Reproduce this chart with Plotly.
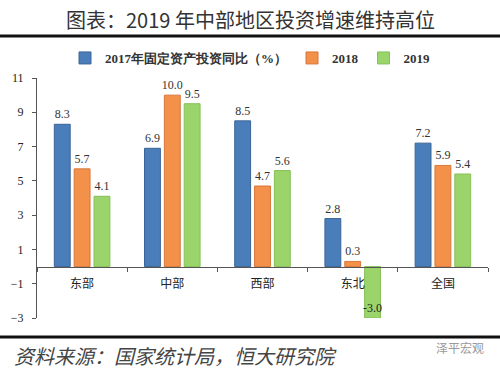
import plotly.graph_objects as go

categories = ["东部", "中部", "西部", "东北", "全国"]
s2017 = [8.3, 6.9, 8.5, 2.8, 7.2]
s2018 = [5.7, 10.0, 4.7, 0.3, 5.9]
s2019 = [4.1, 9.5, 5.6, -3.0, 5.4]
series_names = ["2017年固定资产投资同比（%）", "2018", "2019"]
colors = ["#4A7EBB", "#F3914A", "#9CD46C"]
line_colors = ["#3A6496", "#D8773A", "#86BF58"]
yticks = [-3, -1, 1, 3, 5, 7, 9, 11]

serif = "Liberation Serif, Times New Roman, serif"
cjk = "Noto Sans CJK SC, sans-serif"

fig = go.Figure()
for name, vals, c, lc in zip(series_names, [s2017, s2018, s2019], colors, line_colors):
    pos = ["outside" if v >= 0 else "inside" for v in vals]
    fig.add_trace(go.Bar(
        x=categories, y=vals, name=f"<b>{name}</b>",
        marker=dict(color=c, line=dict(color=lc, width=1)),
        text=[f"{v:.1f}" for v in vals], textposition=pos, textangle=0,
        insidetextanchor="end", constraintext="none",
        textfont=dict(family=serif, size=12, color="#333"),
        insidetextfont=dict(family=serif, size=12, color="#222"),
        outsidetextfont=dict(family=serif, size=12, color="#333"),
        cliponaxis=False,
    ))

L, R, T, B = 37, 12, 78, 52
W, H = 500, 370
pw, ph = W - L - R, H - T - B

def py(pix):
    return 1 - (pix - T) / ph

def px(pix):
    return (pix - L) / pw

fig.update_layout(
    width=W, height=H,
    margin=dict(l=L, r=R, t=T, b=B, autoexpand=False),
    paper_bgcolor="white", plot_bgcolor="white",
    barmode="group", bargap=0.34, bargroupgap=0.2,
    showlegend=True,
    legend=dict(orientation="h", xref="container", x=0.5, xanchor="center",
                yref="container", y=1 - 58 / H, yanchor="middle",
                font=dict(family=serif, size=13, color="#333"),
                itemwidth=30, tracegroupgap=0),
    xaxis=dict(anchor="free", position=3 / 14, showline=True, linecolor="#555",
               linewidth=1, ticks="outside", tickson="boundaries", ticklen=4,
               tickcolor="#555", showgrid=False, ticklabelstandoff=6,
               tickfont=dict(family=cjk, size=12, color="#222")),
    yaxis=dict(range=[-3, 11], tickvals=yticks, showline=True, linecolor="#555",
               linewidth=1, ticks="outside", ticklen=4, tickcolor="#555",
               showgrid=False, zeroline=False, ticklabelstandoff=6,
               tickfont=dict(family=serif, size=12, color="#222")),
    font=dict(family=serif),
)

fig.add_annotation(text="图表：2019 年中部地区投资增速维持高位", xref="paper", yref="paper",
                   x=px(250), y=py(19), xanchor="center", yanchor="middle",
                   showarrow=False, font=dict(family=cjk, size=20, color="#333"))
fig.add_shape(type="line", xref="paper", yref="paper", x0=px(0), x1=px(500),
              y0=py(36), y1=py(36), line=dict(color="#111", width=3))
fig.add_shape(type="line", xref="paper", yref="paper", x0=px(0), x1=px(500),
              y0=py(337), y1=py(337), line=dict(color="#111", width=3))
fig.add_annotation(text="<i>资料来源：国家统计局，恒大研究院</i>", xref="paper", yref="paper",
                   x=px(12), y=py(355), xanchor="left", yanchor="middle",
                   showarrow=False, font=dict(family=cjk, size=20, color="#444"))
fig.add_annotation(text="泽平宏观", xref="paper", yref="paper",
                   x=px(486), y=py(347), xanchor="right", yanchor="middle",
                   showarrow=False, font=dict(family=cjk, size=12, color="#999"))

fig.write_html("out.html", config={"displayModeBar": False},
               post_script="document.body.style.margin='0';document.body.style.overflow='hidden';")
